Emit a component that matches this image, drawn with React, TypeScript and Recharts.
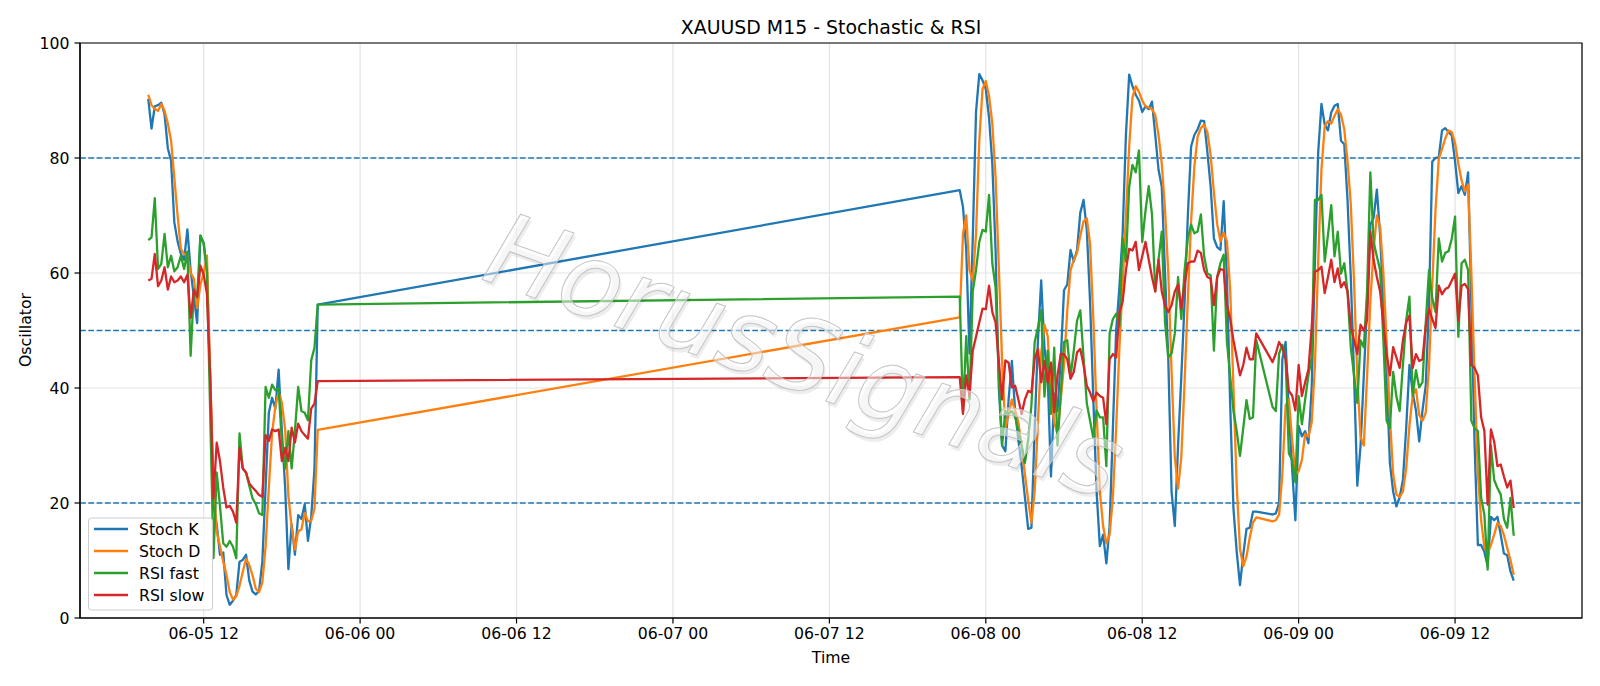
import React from "react";
import {
  LineChart,
  Line,
  XAxis,
  YAxis,
  CartesianGrid,
  ReferenceLine,
  ReferenceArea,
} from "recharts";

// M15 bars, three trading sessions (gap = weekend / daily break)
const SESSION_STARTS = ["06-05 07:45", "06-07 22:00", "06-08 22:00"];
const SESSION_BARS = [53, 92, 75];

const TICK_LABELS = [
  "06-05 12", "06-06 00", "06-06 12", "06-07 00", "06-07 12",
  "06-08 00", "06-08 12", "06-09 00", "06-09 12",
];
const Y_TICKS = [0, 20, 40, 60, 80, 100];
const LEVELS = [20, 50, 80];

const STOCH_K = [
  // 06-05
  90.3, 85.1, 89, 89.2, 89.6, 87.6, 81.7, 79.5, 68.8, 65.5, 63.3, 62.3, 67.6, 60.4, 55.8, 51.3, 66.5, 65.2,
  60.3, 42, 19.5, 16.3, 11, 11.4, 4, 2.3, 3, 4, 9.8, 10.1, 11, 6.5, 4.6, 4.1, 4.7, 9.8, 22.7, 35.7, 38.3,
  36.4, 43.2, 32.5, 22.7, 8.5, 16.3, 11, 17.9, 17.2, 19.8, 13.4, 17.6, 26, 54.5,
  // 06-07 22:00 -> 06-08 20:45
  74.4, 71.5, 64, 46, 66, 88, 94.6, 93.5, 92, 87, 79, 64, 40, 30, 29, 38, 44.7, 36, 31, 26.4,
  21, 15.5, 15.7, 33, 48.3, 58.7, 47, 42, 24.6, 39, 36, 45, 57, 58, 64, 62, 64, 70.5, 72.7, 67.5,
  55, 38, 22, 12.5, 14.5, 9.5, 16, 33, 50, 57.5, 67, 84, 94.5, 92.5, 91, 90, 88, 89, 88.5, 89.8,
  84, 78, 75, 60, 45, 22, 16, 30, 42, 55, 70, 82, 84, 85, 86.5, 86.4, 81, 75, 66, 64.5,
  64, 72.5, 59, 37, 19, 11.5, 5.7, 11, 15.5, 15.7, 18.5, 18.5,
  // 06-08 22:00 -> 06-09 16:30
  18, 18.2, 20, 45, 48, 36, 26, 17, 33.4, 31.6, 32.5, 30.4, 40, 62, 81, 89.4, 85.8, 84.8, 87.9, 89.1,
  89.4, 83, 82.4, 72.7, 59.3, 42.2, 23, 30, 42.2, 54.4, 68.4, 69.6, 74.5, 66.6, 54.4, 42.2, 27, 22, 19.4, 21,
  24, 33, 44, 39.2, 36.1, 30.7, 36.1, 40.4, 54.4, 79.4, 80, 80.1, 84.8, 85.2, 84.5, 83.9, 79.4, 73.9, 75.1, 73.6,
  77.5, 54.4, 30, 12.7, 12.7, 11.5, 9, 17.6, 17, 17.6, 14.5, 11.2, 10.9, 8.1, 6.5,
];

const STOCH_D = [
  91, 89.2, 88.5, 88.2, 89.4, 88.2, 86, 83, 76.5, 70, 64.2, 63.3, 63, 60, 59, 53.9, 58, 60, 63, 42,
  24, 15, 12.5, 9.8, 7.5, 4.5, 3.2, 3.8, 5.6, 8, 10.3, 9.2, 7.4, 5.1, 4.5, 6.2, 12.4, 22.7, 32.2, 36.8,
  39.3, 37.4, 32.8, 21.2, 15.8, 11.9, 15.1, 15.4, 18.3, 16.8, 16.9, 19, 32.7,
  52.3, 66.8, 70, 60.5, 58.7, 66.7, 83, 92, 93.4, 90.8, 86, 76.7, 61, 44.7, 33, 35.5, 38, 36, 34, 30,
  25, 20.5, 16.6, 22, 34, 46, 51, 49, 39, 34, 32, 38, 44, 53.5, 60.5, 62.3, 63.5, 66.5, 69, 69.5,
  65, 52, 36, 22, 16, 13, 14.5, 21, 33, 47, 58, 70, 82, 90.5, 92.5, 91.5, 90, 89, 88.8, 88.5,
  87.5, 84, 79, 71, 60, 43, 28, 22.5, 28, 41, 55.5, 69, 78.5, 83.7, 85.2, 85.8, 84.5, 80.5, 74, 68.5,
  65.5, 67, 65.5, 57, 40, 23, 12, 9, 10.7, 14, 16.6, 17.5,
  16.8, 17, 18, 25, 37, 38, 31, 25, 25.5, 27.5, 32, 31.5, 34, 44, 62, 78, 85.5, 86.4, 86, 87.3,
  88.5, 87.5, 85, 79.5, 72, 58.5, 42, 31.5, 30, 42, 55, 64, 70, 68, 60, 48, 35, 25, 21.5, 21,
  22, 26, 33.5, 38.7, 39.8, 35.3, 34.3, 35.7, 43.6, 58, 71, 79.8, 81.6, 83.4, 84.8, 84.5, 82.6, 79, 76.1, 74.2,
  75.4, 60, 42, 25, 17, 12.3, 11.1, 12.7, 14.5, 16.5, 16, 14.4, 12.2, 10.1, 7.5,
];

const RSI_FAST = [
  65.7, 66.2, 73, 60.7, 61.6, 66.8, 61, 63, 60.3, 61, 63, 60.7, 63.7, 45.6, 57.1, 55.8, 66.5, 65.2, 60.3, 35.7,
  10.4, 25.3, 19.5, 13, 12.4, 13.4, 12.4, 10.4, 32.1, 26, 25.3, 23, 20.8, 19.8, 18.2, 17.9, 40.2, 38.3, 40.6, 39.6,
  39.9, 30.5, 26, 32.5, 26, 32.5, 40.2, 36, 35.7, 34.4, 44.8, 47, 54.5,
  55.9, 36, 49, 38, 56.8, 60.5, 65.4, 67.5, 67.2, 73.6, 61.7, 57.5, 42, 30, 36, 35.5, 36, 35, 32.5, 30,
  27, 31, 37, 48, 50.5, 53.5, 38.5, 46.5, 35.5, 47, 30, 39, 48, 48.3, 42, 46.5, 51.7, 53.5, 45.3, 37.3,
  34.3, 31.3, 36.1, 34.9, 34.9, 26.4, 49.5, 52, 52.9, 50.7, 66, 62, 75, 78.8, 77.5, 81.3, 65.4, 70.8, 75.1, 70.2,
  56.8, 62.3, 67.2, 51.4, 45.3, 46, 49.5, 59.3, 52, 60.5, 66, 68.4, 66.9, 67.2, 70.2, 62.9, 59.9, 59.6, 46.5, 59.3,
  61.7, 63.2, 48, 42, 36, 32.5, 28.2, 33, 37.9, 34.6, 34.9, 48.3,
  36.7, 36, 46, 47.5, 45, 28.6, 27.5, 23.6, 38.6, 33.7, 38, 42.2, 45.3, 72.7, 72.7, 73.6, 62, 66.6, 71.8, 62.9,
  67.2, 59.9, 61.7, 56.8, 47.1, 42.2, 37.4, 48.3, 47.1, 56.8, 77.5, 65.4, 62.9, 60.5, 48.3, 34.3, 33, 42.8, 38.5, 36,
  44, 51.8, 55.9, 38.6, 43.1, 40.1, 41, 51.3, 60.5, 55.6, 53.2, 66, 62, 63.5, 63.8, 66, 69.8, 48.9, 61.7, 62.3,
  60.5, 34.3, 33, 32.5, 20.9, 17.9, 8.4, 30, 24, 22.6, 21.5, 17.2, 15.7, 20.9, 14.3,
];

const RSI_SLOW = [
  58.7, 59, 63.3, 57.7, 58.7, 61, 57.1, 59.4, 58.4, 58.7, 59.4, 58.4, 59.7, 52.2, 57.1, 55.8, 61.3, 59.7, 56.4, 42,
  20.8, 30.5, 27.3, 22.7, 19.2, 19.5, 18.5, 16.6, 29.6, 26, 25.3, 23.4, 22.7, 22.1, 21.4, 21.1, 31.8, 30.8, 32.8, 32.5,
  32.8, 27.3, 29.6, 27.3, 33.1, 30.5, 33.8, 32.5, 31.8, 31.2, 36.4, 37.3, 41.2,
  41.9, 35.5, 42.2, 38.6, 46.5, 48.9, 51.4, 53.8, 53.7, 57.8, 53.2, 51.4, 44.7, 38, 44.8, 44.4, 40.1, 40.4, 38, 35.5,
  38, 39.5, 39.2, 45, 46.8, 41, 44.7, 41, 44.4, 35.8, 42.2, 45.9, 45.9, 45, 41.6, 42.8, 46.2, 46.8, 44, 40.4,
  39.2, 37.7, 39.2, 38.6, 38.3, 33.7, 45, 45.9, 45.3, 53.2, 55, 60.5, 64.2, 63.9, 65.4, 60.5, 62.9, 65.4, 62.3, 59.3,
  56.8, 62.3, 56.8, 54.4, 53.2, 54.4, 56.8, 58, 53.8, 58, 61.7, 62, 62, 63.9, 63.5, 60.5, 59.3, 59, 54.4, 59.3,
  60.7, 60.5, 54.4, 52, 48.3, 45.3, 42.2, 44, 47, 45, 45, 49.5,
  44.5, 46, 48, 47, 45, 39.5, 38.7, 36.1, 44, 38.6, 41, 43.2, 50.5, 60.2, 60.5, 61.1, 56.5, 59.3, 62.3, 58.4,
  60.8, 57.5, 58.4, 56.8, 50.7, 48.3, 45.9, 51, 50, 51.8, 67.2, 62.3, 59.3, 56.8, 51.4, 45.9, 42.2, 47.1, 45.3, 43.5,
  48.3, 51.4, 52.6, 43.5, 45.9, 44.7, 45, 50.8, 53.8, 52, 50.4, 57.8, 56.3, 57.2, 57.5, 58.7, 59.9, 51.7, 57.8, 58.1,
  57.2, 44, 43.5, 42.2, 34.9, 32.5, 19.7, 32.8, 30.7, 26.4, 26.7, 24.6, 22.7, 23.9, 19.1,
];

const SERIES = [
  { key: "k", name: "Stoch K", color: "#1f77b4" },
  { key: "d", name: "Stoch D", color: "#ff7f0e" },
  { key: "fast", name: "RSI fast", color: "#2ca02c" },
  { key: "slow", name: "RSI slow", color: "#d62728" },
];

// "06-05 07:45" -> hours since 06-05 00:00
function toHours(label: string) {
  const [md, hm] = label.split(" ");
  const day = Number(md.slice(3));
  const [h, m = 0] = hm.split(":").map(Number);
  return (day - 5) * 24 + h + m / 60;
}

const times: number[] = [];
SESSION_STARTS.forEach((start, i) => {
  const t0 = toHours(start);
  for (let b = 0; b < SESSION_BARS[i]; b++) times.push(t0 + b * 0.25);
});

const data = times.map((t, i) => ({
  t,
  k: STOCH_K[i],
  d: STOCH_D[i],
  fast: RSI_FAST[i],
  slow: RSI_SLOW[i],
}));

const T_MIN = times[0];
const T_MAX = times[times.length - 1];
const PAD = (T_MAX - T_MIN) * 0.05;
const X_DOMAIN: [number, number] = [T_MIN - PAD, T_MAX + PAD];
const X_TICKS = TICK_LABELS.map(toHours);

const FONT = "DejaVu Sans, Liberation Sans, sans-serif";
const FS = 15.7;

const tickLabel = (v: number) => {
  const i = X_TICKS.findIndex((x) => Math.abs(x - v) < 1e-6);
  return i >= 0 ? TICK_LABELS[i] : "";
};

export default function App() {
  return (
    <div style={{ position: "absolute", left: 0, top: 0, width: 1600, height: 686, background: "#fff", fontFamily: FONT }}>
      <LineChart width={1600} height={686} data={data} margin={{ top: 43, right: 18, bottom: 0, left: 0 }}>
        <CartesianGrid stroke="#e3e3e3" strokeWidth={1.2} />
        <XAxis
          dataKey="t"
          type="number"
          domain={X_DOMAIN}
          ticks={X_TICKS}
          interval={0}
          allowDataOverflow
          height={68}
          tickFormatter={tickLabel}
          tickSize={5.5}
          tickMargin={4}
          tick={{ fontSize: FS, fill: "#000", fontFamily: FONT }}
          tickLine={{ stroke: "#000", strokeWidth: 1.2 }}
          axisLine={{ stroke: "#000", strokeWidth: 1.2 }}
        />
        <YAxis
          type="number"
          domain={[0, 100]}
          ticks={Y_TICKS}
          interval={0}
          width={80}
          tickSize={5.5}
          tickMargin={5}
          tick={{ fontSize: FS, fill: "#000", fontFamily: FONT }}
          tickLine={{ stroke: "#000", strokeWidth: 1.2 }}
          axisLine={{ stroke: "#000", strokeWidth: 1.2 }}
        />
        {LEVELS.map((lv) => (
          <ReferenceLine key={lv} y={lv} stroke="#1f77b4" strokeWidth={1.5} strokeDasharray="5.8 2.5" />
        ))}
        {SERIES.map((s) => (
          <Line
            key={s.key}
            type="linear"
            dataKey={s.key}
            name={s.name}
            stroke={s.color}
            strokeWidth={2.3}
            strokeLinejoin="round"
            dot={false}
            isAnimationActive={false}
          />
        ))}
        <ReferenceArea x1={X_DOMAIN[0]} x2={X_DOMAIN[1]} y1={0} y2={100} fill="none" stroke="#000" strokeWidth={1.2} />
      </LineChart>

      <svg width={1600} height={686} style={{ position: "absolute", left: 0, top: 0, pointerEvents: "none" }}>
        <text x={831} y={27} textAnchor="middle" dominantBaseline="central" fontSize={18.9} fontFamily={FONT} fill="#000">
          XAUUSD M15 - Stochastic &amp; RSI
        </text>
        <text x={831} y={657} textAnchor="middle" dominantBaseline="central" fontSize={FS} fontFamily={FONT} fill="#000">
          Time
        </text>
        <text
          x={25}
          y={330}
          textAnchor="middle"
          dominantBaseline="central"
          fontSize={FS}
          fontFamily={FONT}
          fill="#000"
          transform="rotate(-90 25 330)"
        >
          Oscillator
        </text>

        {/* watermark */}
        <g transform="rotate(19.5 805 356)" fontFamily={FONT} fontStyle="italic" fontSize={102}>
          <text x={808} y={359} textAnchor="middle" dominantBaseline="central" fill="#000" fillOpacity={0.07}>
            HorusSignals
          </text>
          <text
            x={805}
            y={356}
            textAnchor="middle"
            dominantBaseline="central"
            fill="#fff"
            fillOpacity={0.5}
            stroke="#c4c4c4"
            strokeWidth={1}
          >
            HorusSignals
          </text>
        </g>

        {/* legend */}
        <rect x={88.5} y={518} width={124} height={92} rx={3} fill="#fff" fillOpacity={0.8} stroke="#cccccc" />
        {SERIES.map((s, i) => (
          <g key={s.key}>
            <line x1={94} x2={128} y1={529 + i * 22} y2={529 + i * 22} stroke={s.color} strokeWidth={2.3} />
            <text x={139} y={529 + i * 22} dominantBaseline="central" fontSize={FS} fontFamily={FONT} fill="#000">
              {s.name}
            </text>
          </g>
        ))}
      </svg>
    </div>
  );
}
